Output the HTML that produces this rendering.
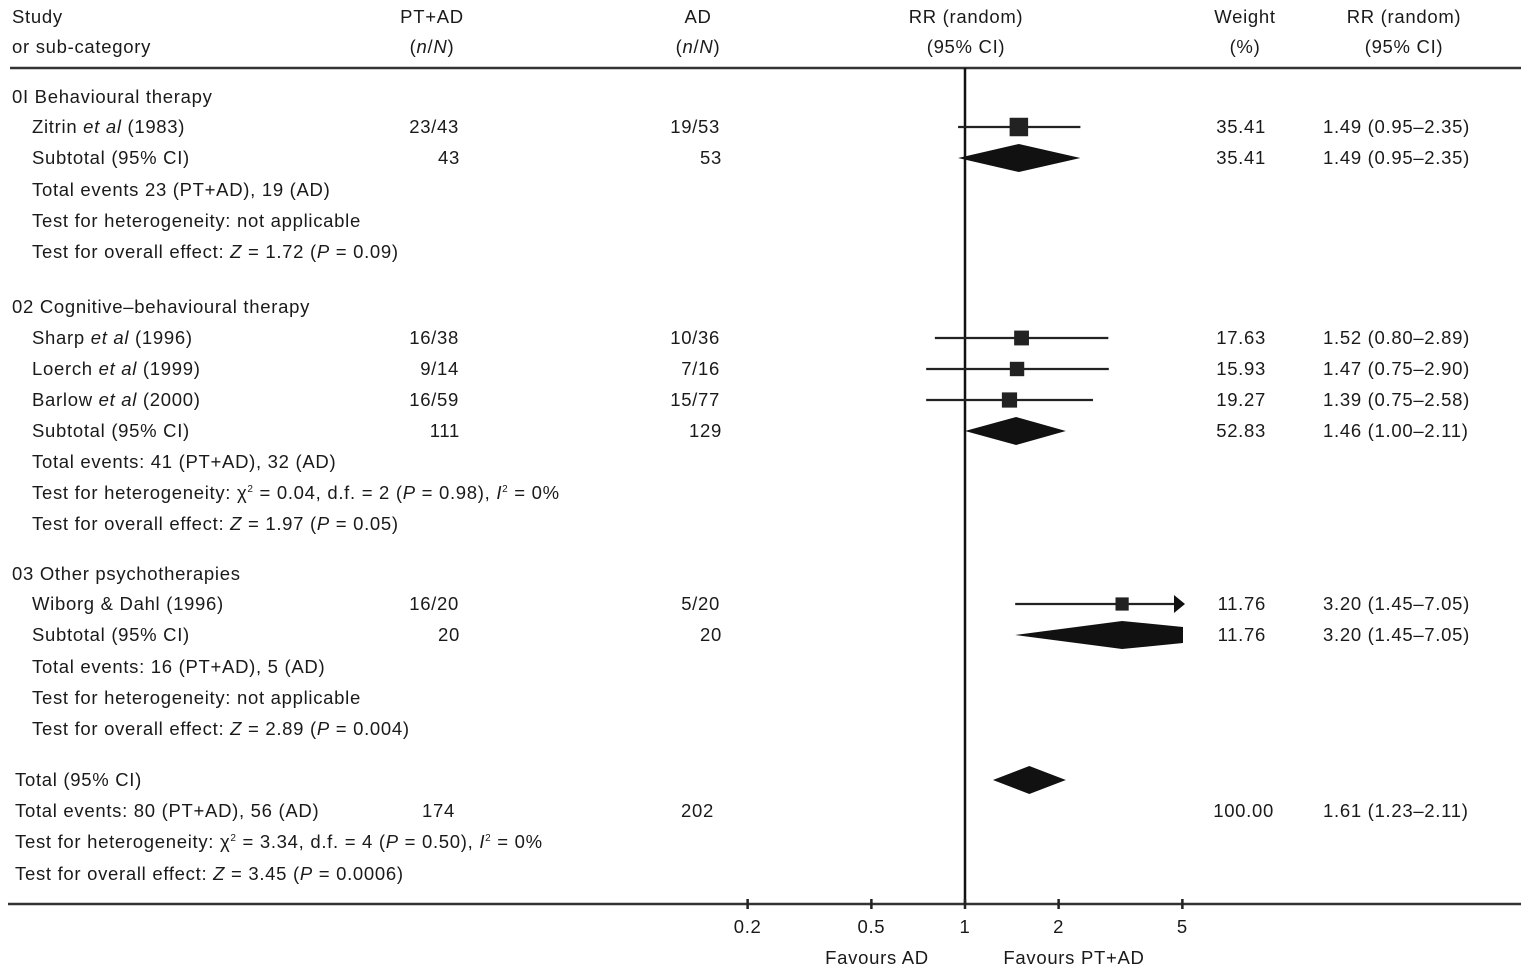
<!DOCTYPE html>
<html><head><meta charset="utf-8"><style>
html,body{margin:0;padding:0;background:#fff;}
svg{display:block;font-family:"Liberation Sans",sans-serif;font-size:18.5px;letter-spacing:0.7px;fill:#1a1a1a;}
</style></head><body>
<svg id="c" width="1521" height="968" viewBox="0 0 1521 968"></svg>
<script>
// ---- data ----
const studyNames = ["Zitrin et al (1983)","Sharp et al (1996)","Loerch et al (1999)","Barlow et al (2000)","Wiborg & Dahl (1996)"];
const studyRows = [127,338,369,400,604];
const studyRR = [1.49,1.52,1.47,1.39,3.20];
const studyLo = [0.95,0.80,0.75,0.75,1.45];
const studyHi = [2.35,2.89,2.90,2.58,7.05];
const studyWeight = [35.41,17.63,15.93,19.27,11.76];
const subRows = [158,431,635,780];
const subRR = [1.49,1.46,3.20,1.61];
const subLo = [0.95,1.00,1.45,1.23];
const subHi = [2.35,2.11,7.05,2.11];
const tickValues = [0.2,0.5,1,2,5];
const tickLabels = ["0.2","0.5","1","2","5"];

const svg = document.getElementById('c');
const NS = "http://www.w3.org/2000/svg";
const X0 = 965, PX_PER_DECADE = 311, XMIN = 748, XMAX = 1183;
function xs(v){ return X0 + Math.log10(v)*PX_PER_DECADE; }
function clampX(x){ return Math.max(XMIN, Math.min(XMAX, x)); }
function el(tag, attrs, parent){ const e=document.createElementNS(NS,tag); for(const k in attrs) e.setAttribute(k,attrs[k]); (parent||svg).appendChild(e); return e; }
function txt(x,y,s,anchor,name){
  const t = el('text',{x:x,y:y+6,'text-anchor':anchor||'start'});
  t.innerHTML = s;
  
  
  return t;
}

// header
txt(12,17,"Study","start","header-study");
txt(12,47,"or sub-category","start","header-subcategory");
txt(432,17,"PT+AD","middle","header-ptad");
txt(432,47,"(<tspan font-style='italic'>n</tspan>/<tspan font-style='italic'>N</tspan>)","middle","header-ptad-n");
txt(698,17,"AD","middle","header-ad");
txt(698,47,"(<tspan font-style='italic'>n</tspan>/<tspan font-style='italic'>N</tspan>)","middle","header-ad-n");
txt(966,17,"RR (random)","middle","header-rr-plot");
txt(966,47,"(95% CI)","middle","header-rr-plot-ci");
txt(1245,17,"Weight","middle","header-weight");
txt(1245,47,"(%)","middle","header-weight-pct");
txt(1404,17,"RR (random)","middle","header-rr");
txt(1404,47,"(95% CI)","middle","header-rr-ci");

let l;
l=el('line',{x1:10,y1:68,x2:1521,y2:68,stroke:'#333','stroke-width':2.5});
 
l=el('line',{x1:8,y1:904,x2:1521,y2:904,stroke:'#333','stroke-width':2.5});
 
l=el('line',{x1:xs(1),y1:68,x2:xs(1),y2:904,stroke:'#111','stroke-width':2.5});
 

// left text lines
const leftLines = [
 [12,97,"0I Behavioural therapy"],
 [32,158,"Subtotal (95% CI)"],
 [32,190,"Total events 23 (PT+AD), 19 (AD)"],
 [32,221,"Test for heterogeneity: not applicable"],
 [32,252,"Test for overall effect: <tspan font-style='italic'>Z</tspan> = 1.72 (<tspan font-style='italic'>P</tspan> = 0.09)"],
 [12,307,"02 Cognitive–behavioural therapy"],
 [32,431,"Subtotal (95% CI)"],
 [32,462,"Total events: 41 (PT+AD), 32 (AD)"],
 [32,493,"Test for heterogeneity: χ<tspan font-size='10' dy='-7'>2</tspan><tspan dy='7'> = 0.04, d.f. = 2 (</tspan><tspan font-style='italic'>P</tspan> = 0.98), <tspan font-style='italic'>I</tspan><tspan font-size='10' dy='-7'>2</tspan><tspan dy='7'> = 0%</tspan>"],
 [32,524,"Test for overall effect: <tspan font-style='italic'>Z</tspan> = 1.97 (<tspan font-style='italic'>P</tspan> = 0.05)"],
 [12,574,"03 Other psychotherapies"],
 [32,635,"Subtotal (95% CI)"],
 [32,667,"Total events: 16 (PT+AD), 5 (AD)"],
 [32,698,"Test for heterogeneity: not applicable"],
 [32,729,"Test for overall effect: <tspan font-style='italic'>Z</tspan> = 2.89 (<tspan font-style='italic'>P</tspan> = 0.004)"],
 [15,780,"Total (95% CI)"],
 [15,811,"Total events: 80 (PT+AD), 56 (AD)"],
 [15,842,"Test for heterogeneity: χ<tspan font-size='10' dy='-7'>2</tspan><tspan dy='7'> = 3.34, d.f. = 4 (</tspan><tspan font-style='italic'>P</tspan> = 0.50),   <tspan font-style='italic'>I</tspan><tspan font-size='10' dy='-7'>2</tspan><tspan dy='7'> = 0%</tspan>"],
 [15,874,"Test for overall effect: <tspan font-style='italic'>Z</tspan> = 3.45 (<tspan font-style='italic'>P</tspan> = 0.0006)"]
];
leftLines.forEach(a=>txt(a[0],a[1],a[2],'start','row-label'));

studyNames.forEach((n,i)=>{
  const s = n.replace("et al","<tspan font-style='italic'>et al</tspan>").replace("&","&amp;");
  txt(32,studyRows[i],s,'start','study-name');
});

const ptad = ["23/43","16/38","9/14","16/59","16/20"], adv = ["19/53","10/36","7/16","15/77","5/20"];
studyRows.forEach((y,i)=>{ txt(459,y,ptad[i],'end','ptad-count'); txt(720,y,adv[i],'end','ad-count'); });
const subN1=["43","111","20","174"], subN2=["53","129","20","202"];
const subNY=[158,431,635,811];
subNY.forEach((y,i)=>{ txt(i==3?455:460,y,subN1[i],'end','ptad-total'); txt(i==3?714:722,y,subN2[i],'end','ad-total'); });

function fmt(v){return v.toFixed(2);}
studyRows.forEach((y,i)=>{
  txt(1266,y,fmt(studyWeight[i]),'end','study-weight');
  txt(1323,y,fmt(studyRR[i])+" ("+fmt(studyLo[i])+"–"+fmt(studyHi[i])+")",'start','study-rr-ci');
});
const subW=[35.41,52.83,11.76,100.00];
const subWY=[158,431,635,811];
subWY.forEach((y,i)=>{
  txt(i==3?1274:1266,y,fmt(subW[i]),'end','subtotal-weight');
  txt(1323,y,fmt(subRR[i])+" ("+fmt(subLo[i])+"–"+fmt(subHi[i])+")",'start','subtotal-rr-ci');
});

studyRows.forEach((y,i)=>{
  const x1=clampX(xs(studyLo[i])), x2=clampX(xs(studyHi[i]));
  const ln=el('line',{x1:x1,y1:y,x2:x2,y2:y,stroke:'#222','stroke-width':2.2});
   
  if (xs(studyHi[i])>XMAX){
    const ar=el('polygon',{points:`${XMAX+2},${y} ${XMAX-9},${y-9} ${XMAX-9},${y+9}`,fill:'#111'});
     
  }
  const sz = 6+Math.sqrt(studyWeight[i])*2.1;
  const r=el('rect',{x:xs(studyRR[i])-sz/2,y:y-sz/2,width:sz,height:sz,fill:'#222'});
   
});
subRows.forEach((y,i)=>{
  const x1=clampX(xs(subLo[i])), x2=clampX(xs(subHi[i])), xc=xs(subRR[i]);
  let pts;
  if (xs(subHi[i])>XMAX) pts=`${x1},${y} ${xc},${y-14} ${x2},${y-8} ${x2},${y+8} ${xc},${y+14}`;
  else pts=`${x1},${y} ${xc},${y-14} ${x2},${y} ${xc},${y+14}`;
  const d=el('polygon',{points:pts,fill:'#111'});
   
});

tickValues.forEach((v,i)=>{
  const x=xs(v);
  const t=el('line',{x1:x,y1:899,x2:x,y2:909,stroke:'#222','stroke-width':2.5});
   
  txt(x,927,tickLabels[i],'middle','x-tick-label');
});
txt(877,958,"Favours AD",'middle','favours-ad-label');
txt(1074,958,"Favours PT+AD",'middle','favours-ptad-label');
</script>
</body></html>
